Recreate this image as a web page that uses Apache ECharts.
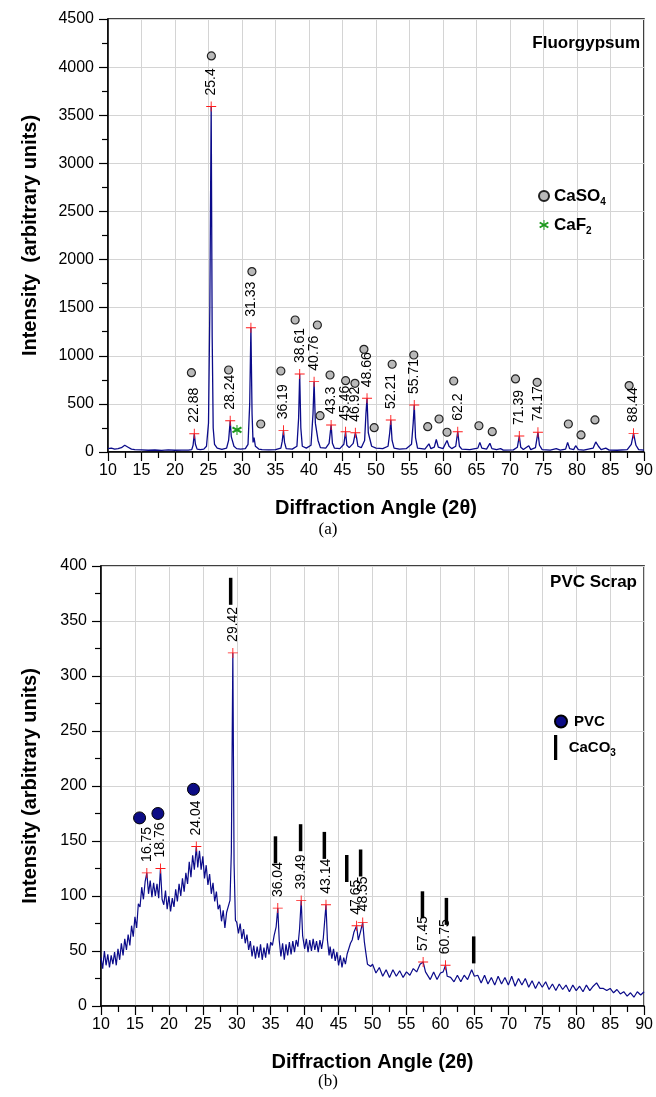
<!DOCTYPE html>
<html><head><meta charset="utf-8">
<script src="https://cdn.jsdelivr.net/npm/echarts@6/dist/echarts.min.js"></script>
<style>html,body{margin:0;padding:0;background:#fff}#c{width:656px;height:1097px}</style>
</head><body><div id="c"></div><script>
// ---------- (a) Fluorgypsum ----------
const fgPattern = [[10,35],[10.5,40],[11,30],[11.5,35],[12,45],[12.5,70],[13,50],[13.5,30],[14,25],[15,22],[16,18],[17,21],[18,17],[19,22],[20,18],[21,19],[22,20],[22.5,25],[22.7,70],[22.88,190],[23.05,80],[23.3,30],[23.8,25],[24.3,30],[24.7,60],[25.0,300],[25.2,1500],[25.4,3590],[25.55,1200],[25.7,250],[25.9,80],[26.3,40],[27,28],[27.7,40],[28.0,120],[28.24,325],[28.4,160],[28.6,150],[28.8,60],[29.2,35],[29.4,38],[29.8,30],[30.5,35],[30.9,80],[31.15,500],[31.33,1292],[31.5,400],[31.65,100],[31.8,150],[32.0,60],[32.5,30],[33,25],[34,22],[35,25],[35.8,40],[36.0,110],[36.19,225],[36.35,100],[36.6,35],[37.5,30],[38.2,60],[38.45,350],[38.61,811],[38.78,250],[39.0,60],[39.6,40],[40.3,70],[40.6,400],[40.76,731],[40.95,300],[41.16,290],[41.35,120],[41.7,45],[42.5,40],[43.0,90],[43.3,280],[43.5,90],[43.8,40],[44.6,35],[45.2,80],[45.46,211],[45.65,70],[46.0,45],[46.6,90],[46.92,200],[47.1,150],[47.3,60],[47.8,45],[48.3,120],[48.5,400],[48.66,558],[48.85,200],[49.1,130],[49.35,60],[50,40],[51,35],[51.8,60],[52.05,200],[52.21,333],[52.4,120],[52.7,40],[53.5,30],[54.5,35],[55.3,80],[55.55,300],[55.71,489],[55.9,150],[56.2,40],[57.3,30],[57.9,85],[58.2,35],[58.7,50],[59.0,130],[59.3,50],[60.0,35],[60.6,120],[60.9,60],[61.3,35],[61.9,60],[62.2,211],[62.45,60],[62.8,30],[64,25],[65.2,40],[65.5,100],[65.8,40],[66.5,30],[67.0,90],[67.3,35],[68.0,25],[68.6,35],[69,20],[70.5,22],[71.1,50],[71.39,166],[71.6,50],[72.0,25],[72.8,65],[73.1,25],[73.8,45],[74.17,205],[74.4,70],[74.8,25],[76,20],[76.9,35],[77.5,20],[78.3,30],[78.6,100],[78.9,35],[79.5,25],[79.8,65],[80.2,25],[81,20],[82.4,40],[82.8,105],[83.2,60],[83.6,25],[84.3,40],[84.8,20],[86,18],[87.5,25],[88.1,80],[88.44,194],[88.8,70],[89.2,25],[90,20]];
const fgPeakAngles = [22.88,25.4,28.24,31.33,36.19,38.61,40.76,43.3,45.46,46.92,48.66,52.21,55.71,62.2,71.39,74.17,88.44];
const fgPeakHeights = [190,3590,325,1292,225,811,731,280,211,200,558,333,489,211,166,205,194];
const caso4Marks = [[22.45,824],[25.43,4116],[28.0,852],[31.48,1875],[32.8,291],[35.8,842],[37.93,1372],[41.25,1320],[41.65,377],[43.14,800],[45.47,741],[46.86,714],[48.2,1067],[49.73,253],[52.41,912],[55.64,1008],[57.72,263],[59.41,343],[60.6,205],[61.6,738],[65.36,273],[67.35,211],[70.82,759],[74.05,724],[78.71,291],[80.6,177],[82.68,333],[87.78,690]];
const caf2Marks = [[29.25,229]];

// ---------- (b) PVC Scrap ----------
const pvcPattern = [[10,44],[10.25,34],[10.5,50],[10.75,37],[11,47],[11.25,35],[11.5,46],[11.75,38],[12,49],[12.25,37],[12.5,52],[12.75,42],[13,57],[13.25,46],[13.5,61],[13.75,51],[14,65],[14.25,55],[14.5,73],[14.75,63],[15,81],[15.25,71],[15.5,93],[15.75,90],[16,108],[16.25,97],[16.5,113],[16.75,121],[17,102],[17.25,114],[17.5,99],[17.75,112],[18,100],[18.25,111],[18.5,98],[18.76,125],[19,97],[19.25,92],[19.5,105],[19.75,88],[20,100],[20.25,86],[20.5,98],[20.75,90],[21,106],[21.25,95],[21.5,111],[21.75,100],[22,116],[22.25,104],[22.5,121],[22.75,111],[23,131],[23.25,117],[23.5,137],[23.75,124],[24.04,145],[24.25,126],[24.5,141],[24.75,124],[25,136],[25.25,116],[25.5,128],[25.75,110],[26,120],[26.25,102],[26.5,112],[26.75,95],[27,104],[27.25,88],[27.5,92],[27.75,77],[28,87],[28.25,71],[28.5,85],[28.75,86],[29,96],[29.2,140],[29.42,321],[29.6,130],[29.8,78],[30,76],[30.25,66],[30.5,75],[30.75,61],[31,70],[31.25,57],[31.5,65],[31.75,51],[32,59],[32.25,45],[32.5,55],[32.75,43],[33,54],[33.25,44],[33.5,56],[33.75,42],[34,53],[34.25,44],[34.5,57],[34.75,47],[35,58],[35.25,55],[35.5,64],[35.8,72],[36.04,89],[36.25,60],[36.5,45],[36.75,57],[37,42],[37.25,56],[37.5,46],[37.75,58],[38,47],[38.25,59],[38.5,49],[38.75,60],[39,54],[39.25,70],[39.49,96],[39.7,64],[40,52],[40.25,61],[40.5,49],[40.75,60],[41,50],[41.25,61],[41.5,51],[41.75,59],[42,49],[42.25,60],[42.5,52],[42.75,62],[43.14,92],[43.35,60],[43.6,46],[43.75,54],[44,43],[44.25,52],[44.5,41],[44.75,49],[45,37],[45.25,46],[45.5,35],[45.75,44],[46,38],[46.25,47],[46.5,48],[46.75,57],[47,60],[47.25,67],[47.65,73],[47.9,60],[48.2,67],[48.55,76],[48.8,58],[49,49],[49.25,38],[49.5,38],[49.75,36],[50,38],[50.5,30],[51,35],[51.5,27],[52,33],[52.5,26],[53,33],[53.5,27],[54,32],[54.5,26],[55,31],[55.5,28],[56,34],[56.5,31],[57,38],[57.45,40],[57.8,31],[58,30],[58.5,24],[59,31],[59.5,24],[60,30],[60.4,31],[60.75,37],[61,27],[61.5,26],[62,22],[62.5,28],[63,22],[63.5,28],[64,24],[64.6,33],[65,27],[65.5,28],[66,21],[66.5,28],[67,20],[67.5,26],[68,19],[68.5,27],[69,20],[69.5,26],[70,19],[70.5,27],[71,18],[71.5,25],[72,19],[72.5,25],[73,17],[73.5,23],[74,16],[74.5,22],[75,17],[75.5,22],[76,15],[76.5,20],[77,14],[77.5,20],[78,15],[78.5,19],[79,13],[79.5,19],[80,14],[80.5,18],[81,13],[81.5,19],[82,14],[82.5,18],[83,21],[83.5,16],[84,16],[84.5,14],[85,16],[85.5,12],[86,15],[86.5,11],[87,13],[87.5,9],[88,12],[88.5,8],[89,13],[89.5,10],[90,13]];
const pvcPeakAngles = [16.75,18.76,24.04,29.42,36.04,39.49,43.14,47.65,48.55,57.45,60.75];
const pvcPeakHeights = [121,125,145,321,89,96,92,73,76,40,37];
const pvcMarks = [[15.68,171],[18.38,175],[23.62,197]];
const caco3Marks = [[29.1,377],[35.7,142],[39.4,153],[42.9,146],[46.2,125],[48.24,130],[57.35,92],[60.88,86],[64.9,51]];

const F = "'Liberation Sans', Arial, sans-serif";
const CROSS = 'path://M5,0 L6,0 L6,11 L5,11 Z M0,5 L11,5 L11,6 L0,6 Z';
const STAR = 'path://M4.5,0 L5.5,0 L5.5,10 L4.5,10 Z M8.83,1.63 L9.83,3.37 L1.17,8.37 L0.17,6.63 Z M9.83,6.63 L8.83,8.37 L0.17,3.37 L1.17,1.63 Z';
const BAR = 'path://M0,0 L1.3,0 L1.3,10 L0,10 Z';

function xAx(gi){
  return {type:'value', gridIndex:gi, min:10, max:90, interval:5,
    name:'Diffraction Angle (2θ)', nameLocation:'middle', nameGap:44,
    nameTextStyle:{fontFamily:F, fontSize:20, fontWeight:'bold', color:'#000', lineHeight:24},
    axisLine:{show:true, onZero:false, lineStyle:{color:'#000', width:1.5}},
    axisTick:{show:true, length:9, lineStyle:{color:'#000', width:1.2}},
    minorTick:{show:true, splitNumber:2, length:6, lineStyle:{color:'#000', width:1.2}},
    axisLabel:{margin:11, fontFamily:F, fontSize:16, color:'#000'},
    splitLine:{show:true, lineStyle:{color:'#d4d4d4', width:1}}};
}
function yAx(gi, max, interval, name, gap){
  return {type:'value', gridIndex:gi, min:0, max:max, interval:interval,
    name:name, nameLocation:'middle', nameGap:gap,
    nameTextStyle:{fontFamily:F, fontSize:20, fontWeight:'bold', color:'#000', lineHeight:24},
    axisLine:{show:true, onZero:false, lineStyle:{color:'#000', width:1.5}},
    axisTick:{show:true, length:9, lineStyle:{color:'#000', width:1.2}},
    minorTick:{show:true, splitNumber:2, length:6, lineStyle:{color:'#000', width:1.2}},
    axisLabel:{margin:14, fontFamily:F, fontSize:16, color:'#000', formatter:v=>String(v)},
    splitLine:{show:true, lineStyle:{color:'#d4d4d4', width:1}}};
}
function peakLabel(){
  return {show:true, position:'top', rotate:90, distance:6, align:'left', verticalAlign:'middle',
    formatter:p=>String(p.value[0]), fontFamily:F, fontSize:14, color:'#000', opacity:1};
}
const subRich = (fs)=>({b:{fontFamily:F, fontSize:fs, fontWeight:'bold', color:'#000', lineHeight:20},
  s:{fontFamily:F, fontSize:10, fontWeight:'bold', color:'#000', lineHeight:10, padding:[12,0,0,0]}});
const subFmt = name => name==='PVC' ? '{b|PVC}' : '{b|'+name.slice(0,-1)+'}{s|'+name.slice(-1)+'}';

const option = {
  animation:false,
  backgroundColor:'#fff',
  title:[
    {text:'Fluorgypsum', right:16, top:33, padding:0, textStyle:{fontFamily:F, fontSize:17, fontWeight:'bold', color:'#000', lineHeight:20}},
    {text:'PVC Scrap', right:19, top:572, padding:0, textStyle:{fontFamily:F, fontSize:17, fontWeight:'bold', color:'#000', lineHeight:20}},
    {text:'(a)', left:'center', top:520, padding:0, textStyle:{fontFamily:"'Liberation Serif', 'Times New Roman', serif", fontSize:17, fontWeight:'normal', color:'#000', lineHeight:20}},
    {text:'(b)', left:'center', top:1072, padding:0, textStyle:{fontFamily:"'Liberation Serif', 'Times New Roman', serif", fontSize:17, fontWeight:'normal', color:'#000', lineHeight:20}}
  ],
  legend:[
    {data:['CaSO4','CaF2'], orient:'vertical', left:538, top:185, padding:0, itemWidth:10, itemHeight:10, itemGap:7,
      selectedMode:false, formatter:subFmt, textStyle:{rich:subRich(17)}},
    {data:['PVC'], orient:'vertical', left:554, top:714, padding:0, itemWidth:16, itemHeight:12,
      selectedMode:false, formatter:subFmt, textStyle:{rich:subRich(15)}},
    {data:[{name:'CaCO3', icon:BAR}], orient:'vertical', left:554, top:735, padding:0, itemWidth:16, itemHeight:25,
      selectedMode:false, formatter:subFmt, textStyle:{rich:subRich(15)}}
  ],
  grid:[
    {left:108, right:12, top:19, height:433, show:true, borderColor:'#000', borderWidth:1.5, backgroundColor:'transparent'},
    {left:101, right:11, top:566, height:440, show:true, borderColor:'#000', borderWidth:1.5, backgroundColor:'transparent'}
  ],
  xAxis:[xAx(0), xAx(1)],
  yAxis:[yAx(0, 4500, 500, 'Intensity  (arbitrary units)', 66), yAx(1, 400, 50, 'Intensity (arbitrary units)', 59)],
  series:[
    {name:'Fluorgypsum', type:'line', xAxisIndex:0, yAxisIndex:0, data:fgPattern, showSymbol:false, symbol:'none',
      lineStyle:{color:'#0b0b8a', width:1.3}, z:2, silent:true},
    {name:'fgPeaks', type:'scatter', xAxisIndex:0, yAxisIndex:0, symbol:CROSS, symbolSize:10,
      itemStyle:{color:'#ff1a1a', opacity:1}, data:fgPeakAngles.map((a,i)=>[a, fgPeakHeights[i]]), label:peakLabel(), z:4, silent:true},
    {name:'CaSO4', type:'scatter', xAxisIndex:0, yAxisIndex:0, symbol:'circle', symbolSize:8,
      itemStyle:{color:'#b9b9b9', borderColor:'#222', borderWidth:1.2, opacity:1}, data:caso4Marks, z:4, silent:true},
    {name:'CaF2', type:'scatter', xAxisIndex:0, yAxisIndex:0, symbol:STAR, symbolSize:10,
      itemStyle:{color:'#1e9a1e', opacity:1}, data:caf2Marks, z:4, silent:true},
    {name:'PVC Scrap', type:'line', xAxisIndex:1, yAxisIndex:1, data:pvcPattern, showSymbol:false, symbol:'none',
      lineStyle:{color:'#0b0b8a', width:1.2}, z:2, silent:true},
    {name:'pvcPeaks', type:'scatter', xAxisIndex:1, yAxisIndex:1, symbol:CROSS, symbolSize:10,
      itemStyle:{color:'#ff1a1a', opacity:1}, data:pvcPeakAngles.map((a,i)=>[a, pvcPeakHeights[i]]), label:peakLabel(), z:4, silent:true},
    {name:'PVC', type:'scatter', xAxisIndex:1, yAxisIndex:1, symbol:'circle', symbolSize:12,
      itemStyle:{color:'#0c0c85', borderColor:'#000', borderWidth:1, opacity:1}, data:pvcMarks, z:4, silent:true},
    {name:'CaCO3', type:'scatter', xAxisIndex:1, yAxisIndex:1, symbol:'rect', symbolSize:[3.5,27],
      itemStyle:{color:'#000', opacity:1}, data:caco3Marks, z:4, silent:true}
  ]
};
const chart = echarts.init(document.getElementById('c'), null, {renderer:'canvas'});
chart.setOption(option);
</script></body></html>
